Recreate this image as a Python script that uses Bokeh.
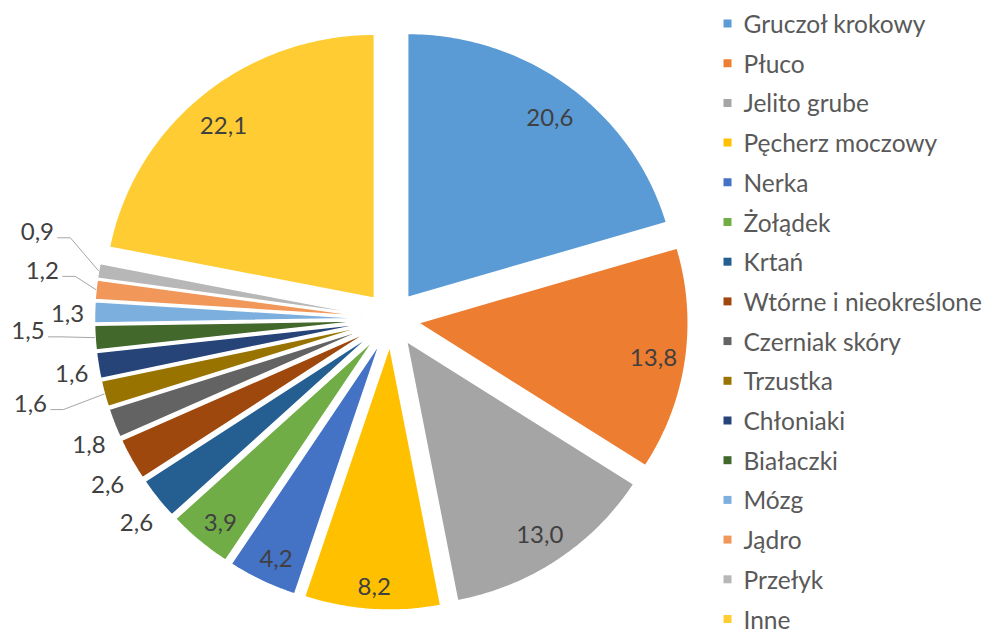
import numpy as np
from bokeh.plotting import figure
from bokeh.models import ColumnDataSource, Range1d
from bokeh.core.properties import value
from bokeh.embed import file_html
from bokeh.resources import INLINE

# ---- data ----
categories = ["Gruczoł krokowy", "Płuco", "Jelito grube", "Pęcherz moczowy", "Nerka",
              "Żołądek", "Krtań", "Wtórne i nieokreślone", "Czerniak skóry", "Trzustka",
              "Chłoniaki", "Białaczki", "Mózg", "Jądro", "Przełyk", "Inne"]
values = [20.6, 13.8, 13.0, 8.2, 4.2, 3.9, 2.6, 2.6, 1.8, 1.6, 1.6, 1.5, 1.3, 1.2, 0.9, 22.1]
colors = ["#5B9BD5", "#ED7D31", "#A5A5A5", "#FFC000", "#4472C4", "#70AD47", "#255E91",
          "#9E480E", "#636363", "#997300", "#264478", "#43682B", "#7CAFDD", "#F1975A",
          "#B7B7B7", "#FFCD33"]

# ---- layout (label radius as fraction of pie radius, vertical nudge in px, leader line) ----
label_r = [0.88, 0.88, 0.88, 0.88, 0.88, 0.88, 1.10, 1.10, 1.10, 1.284, 1.10, 1.249, 1.10, 1.20, 1.23, 0.88]
label_dy = [6, 2, 1, 9, 6, 6, 7.5, 12, 12, -9.6, 4, -11, 2, -14, -29, 7]
leader = [False] * 9 + [True, False, True, False, True, True, False]

W, H = 988, 633
CX, CY = 391.0, 318.6     # pie centre (screen px)
RX, RY = 270.0, 264.0     # pie radii
D = 27.0                  # explosion distance

total = float(sum(values))
cum = np.concatenate([[0.0], np.cumsum(values)])
a0s = cum[:-1] / total * 2 * np.pi
a1s = cum[1:] / total * 2 * np.pi

xs, ys = [], []
lx, ly, ltxt = [], [], []
lead_xs, lead_ys = [], []
for i, v in enumerate(values):
    a0, a1 = a0s[i], a1s[i]
    mid = (a0 + a1) / 2
    ax = CX + D * np.sin(mid)
    ay = CY - D * np.cos(mid)
    n = max(4, int((a1 - a0) / (2 * np.pi) * 480))
    t = np.linspace(a0, a1, n)
    px = np.concatenate([[ax], ax + RX * np.sin(t)])
    py = np.concatenate([[ay], ay - RY * np.cos(t)])
    xs.append(list(px))
    ys.append(list(-py))
    # label
    tx = ax + label_r[i] * RX * np.sin(mid)
    ty = ay - label_r[i] * RY * np.cos(mid) + label_dy[i]
    lx.append(tx)
    ly.append(-ty)
    ltxt.append(f"{v:.1f}".replace(".", ","))
    if leader[i]:
        ex = ax + RX * np.sin(mid)
        ey = ay - RY * np.cos(mid)
        lead_xs.append([tx + 20, tx + 33, ex])
        lead_ys.append([-(ty + 6), -(ty + 6), -ey])

p = figure(width=W, height=H, output_backend="svg", toolbar_location=None,
           x_range=Range1d(0, W), y_range=Range1d(-H, 0),
           x_axis_location=None, y_axis_location=None, min_border=0,
           outline_line_color=None, background_fill_color="white",
           border_fill_color="white")
p.grid.visible = False

src = ColumnDataSource(dict(xs=xs, ys=ys, color=colors, name=categories, val=values))
p.patches("xs", "ys", source=src, fill_color="color", line_color="white", line_width=1.5)

p.multi_line(lead_xs, lead_ys, line_color="#A6A6A6", line_width=1)

lsrc = ColumnDataSource(dict(x=lx, y=ly, text=ltxt))
p.text("x", "y", text="text", source=lsrc, text_font=value("Lato"), text_font_size="24px",
       text_color="#404040", text_align="center", text_baseline="middle")

# ---- legend ----
leg_y = [-(23 + 39.7 * i) for i in range(len(categories))]
p.scatter([727] * len(categories), leg_y, marker="square", size=8, fill_color=colors,
          line_color=None)
p.text([743] * len(categories), leg_y, text=categories, text_font=value("Lato"),
       text_font_size="24.5px", text_color="#595959", text_align="left",
       text_baseline="middle")

open("out.html", "w").write(file_html(p, INLINE))
